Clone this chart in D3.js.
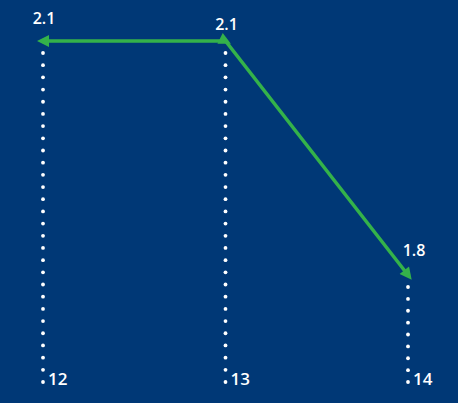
<!DOCTYPE html>
<html>
<head>
<meta charset="utf-8">
<script src="https://d3js.org/d3.v7.min.js"></script>
<style>
  body { margin: 0; background: #003876; }
  text { font-family: "Open Sans", sans-serif; fill: #ffffff; font-weight: 600; }
</style>
</head>
<body>
<svg id="chart"></svg>
<script>
let width = 458,
    height = 403
let margins = {left: 43, right: 50, top: 41, bottom: 128}

// data
let categories = ["12", "13", "14"]
let values = [2.1, 2.1, 1.8]
let value_labels = ["2.1", "2.1", "1.8"]

let data = categories.map((c, i) => ({cat: c, value: values[i], label: value_labels[i]}))

function make_scales(data) {
  return {
    x: d3.scalePoint()
         .domain(data.map(d => d.cat))
         .range([margins.left, width - margins.right]),
    y: d3.scaleLinear()
         .domain([d3.min(data, d => d.value), d3.max(data, d => d.value)])
         .range([height - margins.bottom, margins.top])
  }
}

function draw(data) {
  let scales = make_scales(data)
  let svg = d3.select("#chart").attr("width", width).attr("height", height)
  let green = "#34b24a"
  let bottom = 382

  let defs = svg.append("defs")
  defs.append("marker")
    .attr("id", "arrow")
    .attr("viewBox", "0 0 10 10")
    .attr("refX", 5).attr("refY", 5)
    .attr("markerUnits", "userSpaceOnUse")
    .attr("markerWidth", 13).attr("markerHeight", 12)
    .attr("orient", "auto-start-reverse")
    .append("path")
    .attr("d", "M0,0L10,5L0,10z")
    .attr("fill", green)

  // dotted drop lines
  let dots = svg.append("g")
  data.forEach(d => {
    let x = scales.x(d.cat),
        top = scales.y(d.value) + 12
    let n = Math.round((bottom - top) / 12.2)
    let step = (bottom - top) / n
    dots.selectAll(null)
      .data(d3.range(n + 1)).enter()
      .append("circle")
      .attr("cx", x)
      .attr("cy", k => bottom - k * step)
      .attr("r", 1.9)
      .attr("fill", "#ffffff")
  })

  // the line with arrow heads
  let line = d3.line()
    .x(d => scales.x(d.cat))
    .y(d => scales.y(d.value))
  svg.append("path")
    .datum(data)
    .attr("d", line)
    .attr("fill", "none")
    .attr("stroke", green)
    .attr("stroke-width", 3.5)
    .attr("marker-start", "url(#arrow)")
    .attr("marker-mid", "url(#arrow)")
    .attr("marker-end", "url(#arrow)")

  // value labels
  let label_off = [[1, -17], [1, -11], [6, -19]]
  svg.append("g").selectAll("text")
    .data(data).enter()
    .append("text")
    .attr("x", (d, i) => scales.x(d.cat) + label_off[i][0])
    .attr("y", (d, i) => scales.y(d.value) + label_off[i][1])
    .attr("text-anchor", "middle")
    .style("font-size", "16px")
    .text(d => d.label)

  // category ticks
  svg.append("g").selectAll("text")
    .data(data).enter()
    .append("text")
    .attr("x", d => scales.x(d.cat) + 5)
    .attr("y", bottom + 3)
    .style("font-size", "17px")
    .text(d => d.cat)
}

draw(data)
</script>
</body>
</html>
